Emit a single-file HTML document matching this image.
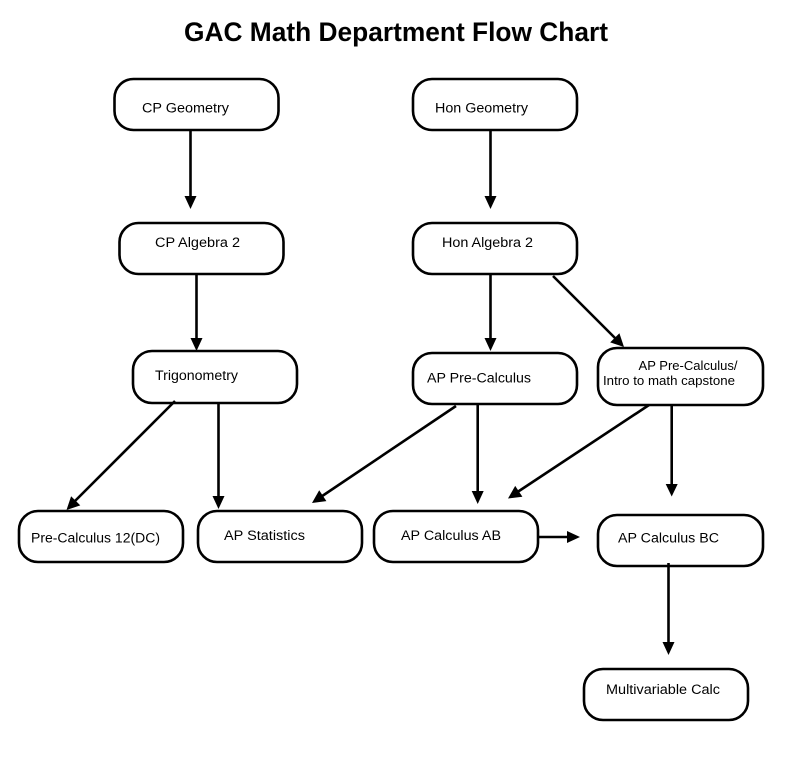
<!DOCTYPE html>
<html>
<head>
<meta charset="utf-8">
<style>
html,body{margin:0;padding:0;background:#fff;width:785px;height:765px;overflow:hidden}
svg{display:block}
text{font-family:"Liberation Sans",Arial,sans-serif;fill:#000;font-size:14.2px}
.b{fill:#fff;stroke:#000;stroke-width:2.6}
.l{stroke:#000;stroke-width:2.6;fill:none}
</style>
</head>
<body>
<svg width="785" height="765" viewBox="0 0 785 765" xmlns="http://www.w3.org/2000/svg">
<text x="184" y="41" textLength="424" lengthAdjust="spacingAndGlyphs" style="font-size:26.4px;font-weight:bold">GAC Math Department Flow Chart</text>

<rect class="b" x="114.500" y="79" width="164" height="51" rx="19"/>
<rect class="b" x="413" y="79" width="164" height="51" rx="19"/>
<rect class="b" x="119.500" y="223" width="164" height="51" rx="19"/>
<rect class="b" x="413" y="223" width="164" height="51" rx="19"/>
<rect class="b" x="133" y="351" width="164" height="52" rx="19"/>
<rect class="b" x="413" y="353" width="164" height="51" rx="19"/>
<rect class="b" x="598" y="348" width="165" height="57" rx="19"/>
<rect class="b" x="19" y="511" width="164" height="51" rx="19"/>
<rect class="b" x="198" y="511" width="164" height="51" rx="19"/>
<rect class="b" x="374" y="511" width="164" height="51" rx="19"/>
<rect class="b" x="598" y="515" width="165" height="51" rx="19"/>
<rect class="b" x="584" y="669" width="164" height="51" rx="19"/>

<g class="l">
<line x1="190.500" y1="130" x2="190.500" y2="198"/>
<line x1="490.500" y1="130" x2="490.500" y2="198"/>
<line x1="196.500" y1="275" x2="196.500" y2="340"/>
<line x1="490.500" y1="274" x2="490.500" y2="340"/>
<line x1="553" y1="276" x2="617" y2="340"/>
<line x1="175" y1="401" x2="73" y2="503"/>
<line x1="218.500" y1="403" x2="218.500" y2="498"/>
<line x1="456" y1="406" x2="320" y2="497.500"/>
<line x1="477.700" y1="405" x2="477.700" y2="493"/>
<line x1="649" y1="405" x2="516" y2="493"/>
<line x1="671.700" y1="406" x2="671.700" y2="485"/>
<line x1="539" y1="537" x2="568" y2="537"/>
<line x1="668.500" y1="563" x2="668.500" y2="644"/>
</g>
<g fill="#000">
<polygon points="184.500,196 196.500,196 190.500,209"/>
<polygon points="484.500,196 496.500,196 490.500,209"/>
<polygon points="190.500,338 202.500,338 196.500,351"/>
<polygon points="484.500,338 496.500,338 490.500,351"/>
<polygon points="619.400,333.200 610.200,342.400 624,347"/>
<polygon points="80.300,505.400 71.100,496.200 66.500,510"/>
<polygon points="212.500,496 224.500,496 218.500,509"/>
<polygon points="326.400,501.100 319.200,490.300 312,503"/>
<polygon points="471.700,491 483.700,491 477.700,504"/>
<polygon points="522.400,496.700 515.200,485.900 508,498.500"/>
<polygon points="665.700,484 677.700,484 671.700,496.500"/>
<polygon points="567,531 567,543 580,537"/>
<polygon points="662.500,642 674.500,642 668.500,655"/>
</g>

<text x="142" y="112.500" textLength="87" lengthAdjust="spacingAndGlyphs">CP Geometry</text>
<text x="435" y="112.500" textLength="93" lengthAdjust="spacingAndGlyphs">Hon Geometry</text>
<text x="155" y="247" textLength="85" lengthAdjust="spacingAndGlyphs">CP Algebra 2</text>
<text x="442" y="247" textLength="91" lengthAdjust="spacingAndGlyphs">Hon Algebra 2</text>
<text x="155" y="380" textLength="83" lengthAdjust="spacingAndGlyphs">Trigonometry</text>
<text x="427" y="382.500" textLength="104" lengthAdjust="spacingAndGlyphs">AP Pre-Calculus</text>
<text x="638.500" y="370" textLength="99" lengthAdjust="spacingAndGlyphs" style="font-size:13.100px">AP Pre-Calculus/</text>
<text x="603" y="385" textLength="132" lengthAdjust="spacingAndGlyphs" style="font-size:13.100px">Intro to math capstone</text>
<text x="31" y="542.500" textLength="129" lengthAdjust="spacingAndGlyphs">Pre-Calculus 12(DC)</text>
<text x="224" y="540" textLength="81" lengthAdjust="spacingAndGlyphs">AP Statistics</text>
<text x="401" y="540" textLength="100" lengthAdjust="spacingAndGlyphs">AP Calculus AB</text>
<text x="618" y="542.500" textLength="101" lengthAdjust="spacingAndGlyphs">AP Calculus BC</text>
<text x="606" y="694" textLength="114" lengthAdjust="spacingAndGlyphs">Multivariable Calc</text>
</svg>
</body>
</html>
